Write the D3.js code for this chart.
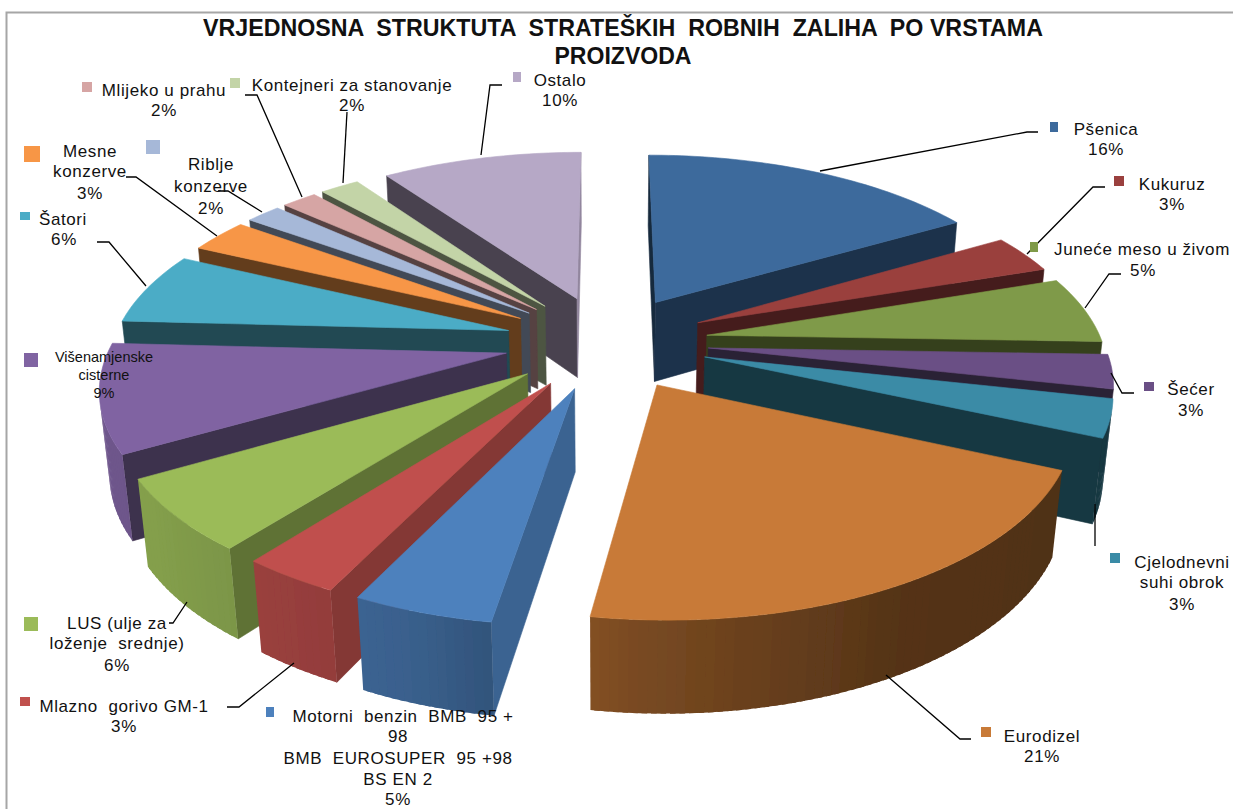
<!DOCTYPE html>
<html>
<head>
<meta charset="utf-8">
<script src="https://cdn.jsdelivr.net/npm/d3@7/dist/d3.min.js"></script>
<style>
  html, body { margin: 0; padding: 0; background: #fff; }
  svg { display: block; }
  text { font-family: "Liberation Sans", Arial, sans-serif; fill: #111; white-space: pre; }
</style>
</head>
<body>
<div id="vis-container"></div>
<script>
//data
const titleLines = ["VRJEDNOSNA  STRUKTUTA  STRATEŠKIH  ROBNIH  ZALIHA  PO VRSTAMA", "PROIZVODA"];
const categories = ["Pšenica", "Kukuruz", "Juneće meso u živom", "Šećer", "Cjelodnevni suhi obrok", "Eurodizel",
  "Motorni benzin", "Mlazno gorivo GM-1", "LUS", "Višenamjenske cisterne", "Šatori", "Mesne konzerve",
  "Riblje konzerve", "Mlijeko u prahu", "Kontejneri za stanovanje", "Ostalo"];
//shares as measured from the slices, the printed labels are rounded
const values = [16.5, 3.3, 5.7, 2.9, 3.2, 20.8, 4.7, 3.3, 6.1, 9.2, 6.2, 2.9, 1.7, 1.7, 1.9, 9.7];
const colors = ["#3d6a9c", "#9a403e", "#7f9a48", "#6a4f85", "#3a8ba6", "#c87a37", "#4d81bd", "#c0504d",
  "#9bbb59", "#8064a2", "#4bacc6", "#f79646", "#a6b8d8", "#d6a5a4", "#c3d4a7", "#b6a8c6"];

//label layout: text lines, centre x, baselines, swatch box [x, y, w, h], leader line
const labelLayout = [
  {lines: ["Pšenica", "16%"], x: [1106, 1106], y: [135, 155], box: [1050, 122, 8, 10], lead: [[1038,132],[1027,132],[820,171]]},
  {lines: ["Kukuruz", "3%"], x: [1172, 1172], y: [190, 210], box: [1114, 176, 10, 10], lead: [[1105,187],[1093,187],[1027,254]]},
  {lines: ["Juneće meso u živom", "5%"], x: [1142, 1143], y: [255, 276], box: [1030, 242, 8, 10], lead: [[1121,274],[1109,274],[1085,308]]},
  {lines: ["Šećer", "3%"], x: [1191, 1191], y: [395, 416], box: [1144, 382, 10, 9], lead: [[1134,393],[1122,393],[1111,373]]},
  {lines: ["Cjelodnevni", "suhi obrok", "3%"], x: [1182, 1182, 1182], y: [568, 588, 610], box: [1110, 553, 10, 10], lead: [[1095,504],[1095,546]]},
  {lines: ["Eurodizel", "21%"], x: [1042, 1042], y: [742, 762], box: [981, 727, 10, 10], lead: [[971,739],[960,739],[886,675]]},
  {lines: ["Motorni  benzin  BMB  95 +", "98", "BMB  EUROSUPER  95 +98", "BS EN 2", "5%"], x: [403, 398, 398, 398, 398], y: [722, 742, 764, 785, 805], box: [266, 707, 8, 10], lead: null},
  {lines: ["Mlazno  gorivo GM-1", "3%"], x: [124, 124], y: [712, 732], box: [20, 697, 10, 9], lead: [[227,707],[239,707],[294,663]]},
  {lines: ["LUS (ulje za", "loženje  srednje)", "6%"], x: [117, 117, 117], y: [629, 649, 671], box: [24, 617, 14, 14], lead: [[169,623],[173,623],[187,602]]},
  {lines: ["Višenamjenske", "cisterne", "9%"], x: [104, 104, 104], y: [362, 380, 398], box: [24, 353, 14, 14], lead: null, small: true},
  {lines: ["Šatori", "6%"], x: [63, 64], y: [225, 245], box: [20, 212, 10, 8], lead: [[97,242],[109,242],[146,286]]},
  {lines: ["Mesne", "konzerve", "3%"], x: [90, 90, 90], y: [157, 177, 199], box: [24, 146, 16, 16], lead: [[126,177],[136,177],[217,236]]},
  {lines: ["Riblje", "konzerve", "2%"], x: [211, 211, 211], y: [170, 192, 214], box: [146, 140, 14, 14], lead: [[218,191],[228,191],[262,212]]},
  {lines: ["Mlijeko u prahu", "2%"], x: [164, 164], y: [96, 116], box: [82, 82, 10, 10], lead: [[245,95],[257,95],[302,197]]},
  {lines: ["Kontejneri za stanovanje", "2%"], x: [352, 352], y: [91, 111], box: [230, 78, 10, 10], lead: [[347,112],[343,183]]},
  {lines: ["Ostalo", "10%"], x: [560, 560], y: [86, 106], box: [513, 72, 8, 10], lead: [[502,85],[490,85],[481,155]]}
];

const W = 1233, H = 809;

//view of the 3d pie
const view = {cx: 606.5, cy: 342, r: 395, explode: 102, depth: 93, elev: 27.5 * Math.PI / 180, dist: 2200};
const cosE = Math.cos(view.elev), sinE = Math.sin(view.elev);
const camera = [0, view.dist * sinE, view.dist * cosE];

function project(p){
  let yr = p[1] * cosE - p[2] * sinE;
  let zr = p[2] * cosE + p[1] * sinE;
  let s = view.dist / (view.dist - zr);
  return [view.cx + p[0] * s, view.cy - yr * s];
}

//how dark the side faces get, by the direction they look at (degrees, clockwise from the back)
const outerShade = d3.scaleLinear().domain([90, 120, 150, 183, 200, 235, 270]).range([.4, .4, .42, .6, .75, .85, .88]).clamp(true);
const wallShade = d3.scaleLinear().domain([90, 111, 122, 144, 158, 176, 200]).range([.8, .72, .65, .5, .45, .43, .4]).clamp(true);

function shade(col, k){
  let c = d3.rgb(col);
  return d3.rgb(c.r * k, c.g * k, c.b * k).formatHex();
}

let svg = d3.select("#vis-container")
  .append("svg")
  .attr("width", W)
  .attr("height", H);

//soft edges, the original is a scaled bitmap
svg.append("defs").append("filter")
  .attr("id", "soft")
  .append("feGaussianBlur")
  .attr("stdDeviation", 0.5);

//chart frame, only the top and left edges are in the picture
svg.append("path")
  .attr("d", `M6.5,${H}V12.5H${W}`)
  .attr("fill", "none")
  .attr("stroke", "#a6a6a6")
  .attr("stroke-width", 2);

let pie = d3.pie().sort(null).value(d => d);
let arcs = pie(values).map((d, i) => {
  let mid = (d.startAngle + d.endAngle) / 2;
  return {i, a0: d.startAngle, a1: d.endAngle, mid,
    ox: view.explode * Math.sin(mid), oz: -view.explode * Math.cos(mid)};
});

const line = d3.line().curve(d3.curveLinear);
const deg = a => ((a * 180 / Math.PI) % 360 + 360) % 360;

function rim(s, a, y){
  return [s.ox + view.r * Math.sin(a), y, s.oz - view.r * Math.cos(a)];
}
function facing(p, n){
  return (camera[0]-p[0])*n[0] + (camera[1]-p[1])*n[1] + (camera[2]-p[2])*n[2] > 0;
}
function face(g, pts, fill, edge){
  g.append("path")
    .attr("d", line(pts.map(project)) + "Z")
    .attr("fill", fill)
    .attr("stroke", edge ? fill : "none")
    .attr("stroke-width", 0.6);
}

let gPie = svg.append("g").attr("filter", "url(#soft)");
//far slices first
arcs.slice().sort((a, b) => a.oz - b.oz).forEach(s => {
  let g = gPie.append("g").attr("class", "slice");
  let col = colors[s.i];
  let apexT = [s.ox, 0, s.oz], apexB = [s.ox, -view.depth, s.oz];

  //side walls
  let n0 = [-Math.cos(s.a0), 0, -Math.sin(s.a0)];
  if (facing(apexT, n0)) {
    face(g, [apexT, rim(s, s.a0, 0), rim(s, s.a0, -view.depth), apexB], shade(col, wallShade(deg(s.a0 - Math.PI / 2))), true);
  }
  let n1 = [Math.cos(s.a1), 0, Math.sin(s.a1)];
  if (facing(apexT, n1)) {
    face(g, [apexT, rim(s, s.a1, 0), rim(s, s.a1, -view.depth), apexB], shade(col, wallShade(deg(s.a1 + Math.PI / 2))), true);
  }

  //outer wall in narrow strips, each one laps over the next so no seams show
  let steps = Math.ceil((s.a1 - s.a0) / 0.02);
  let da = (s.a1 - s.a0) / steps;
  d3.range(steps).forEach(k => {
    let a = s.a0 + da * k, b = Math.min(a + da * 1.6, s.a1);
    let m = a + da / 2;
    if (facing(rim(s, m, 0), [Math.sin(m), 0, -Math.cos(m)])) {
      face(g, [rim(s, a, 0), rim(s, b, 0), rim(s, b, -view.depth), rim(s, a, -view.depth)], shade(col, outerShade(deg(m))), false);
    }
  });

  //top face
  let top = [apexT].concat(d3.range(steps + 1).map(k => rim(s, s.a0 + da * k, 0)));
  face(g, top, col, true);
});

//title
let gTitle = svg.append("g");
gTitle.append("text")
  .attr("x", 623).attr("y", 36)
  .attr("text-anchor", "middle")
  .attr("font-size", 24).attr("font-weight", "bold")
  .attr("textLength", 840).attr("lengthAdjust", "spacingAndGlyphs")
  .text(titleLines[0]);
gTitle.append("text")
  .attr("x", 623).attr("y", 64)
  .attr("text-anchor", "middle")
  .attr("font-size", 24).attr("font-weight", "bold")
  .attr("textLength", 137).attr("lengthAdjust", "spacingAndGlyphs")
  .text(titleLines[1]);

//leaders, swatches, labels
let gLabels = svg.append("g");
labelLayout.forEach((l, i) => {
  if (l.lead) {
    gLabels.append("path")
      .attr("d", line(l.lead))
      .attr("fill", "none")
      .attr("stroke", "#000")
      .attr("stroke-width", 1.3);
  }
  gLabels.append("rect")
    .attr("x", l.box[0]).attr("y", l.box[1])
    .attr("width", l.box[2]).attr("height", l.box[3])
    .attr("fill", colors[i]);
  l.lines.forEach((t, k) => {
    gLabels.append("text")
      .attr("x", l.x[k]).attr("y", l.y[k])
      .attr("text-anchor", "middle")
      .attr("font-size", l.small ? 14.5 : 17)
      .attr("letter-spacing", l.small ? 0 : 0.6)
      .text(t);
  });
});
</script>
</body>
</html>
